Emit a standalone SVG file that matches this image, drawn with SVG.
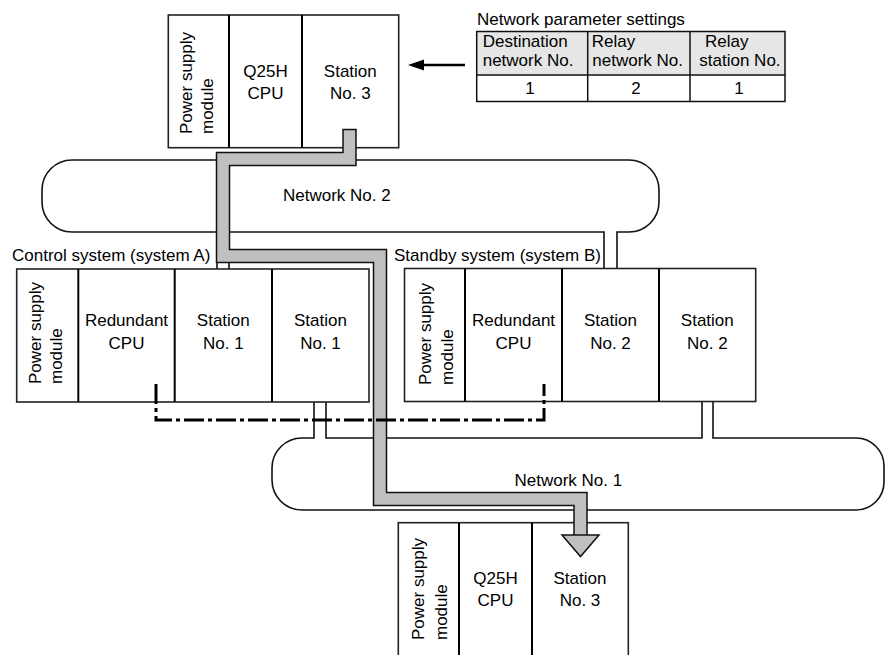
<svg xmlns="http://www.w3.org/2000/svg" width="885" height="655" viewBox="0 0 885 655">
<style>
text{font-family:"Liberation Sans",Arial,sans-serif;font-size:17px;fill:#000}
.c{text-anchor:middle}
.box{fill:#fff;stroke:#222;stroke-width:1.6}
.div{stroke:#000;stroke-width:2}
.net{fill:none;stroke:#111;stroke-width:1.6}
.tbl{stroke:#111;stroke-width:1.5}
.route-o{fill:none;stroke:#111;stroke-width:14.5;stroke-linejoin:miter}
.route-i{fill:none;stroke:#c0c0c0;stroke-width:11.5;stroke-linejoin:miter}
.dd{fill:none;stroke:#000;stroke-width:3;stroke-dasharray:20 4 4 4}
</style>
<rect width="885" height="655" fill="#fff"/>

<g id="network-2">
<path class="net" d="M217,232 H72 A30,30 0 0 1 42,202 V190 A30,30 0 0 1 72,160 H629 A30,30 0 0 1 659,190 V202 A30,30 0 0 1 629,232 H617 V268.5 M604,268.5 V232 H229 V269 M217,269 V232"/>
<text x="283" y="201">Network No. 2</text>
</g>

<g id="network-1">
<path class="net" d="M314,402 V438 H302 A30,30 0 0 0 272,468 V480 A30,30 0 0 0 302,510 H856 A28,28 0 0 0 884,482 V466 A28,28 0 0 0 856,438 H713 V401.5 M702,401.5 V438 H326 V402"/>
<text x="514.5" y="486">Network No. 1</text>
</g>

<g id="top-station">
<rect class="box" x="168.3" y="15" width="230.4" height="132.7"/>
<line class="div" x1="229" y1="15" x2="229" y2="147.7"/>
<line class="div" x1="302" y1="15" x2="302" y2="147.7"/>
<text transform="translate(191.5,134) rotate(-90)">Power supply</text>
<text transform="translate(213,134) rotate(-90)">module</text>
<text class="c" x="265.5" y="76.5">Q25H</text>
<text class="c" x="265.5" y="99">CPU</text>
<text class="c" x="350.3" y="76.5">Station</text>
<text class="c" x="350.3" y="99">No. 3</text>
</g>

<g id="parameter-table">
<text x="477" y="25">Network parameter settings</text>
<rect x="476.7" y="31.5" width="308.3" height="43.5" fill="#e6e6e6"/>
<rect x="476.7" y="31.5" width="308.3" height="70" fill="none" class="tbl"/>
<line class="tbl" x1="476.7" y1="75" x2="785" y2="75"/>
<line class="tbl" x1="587.7" y1="31.5" x2="587.7" y2="101.5"/>
<line class="tbl" x1="690" y1="31.5" x2="690" y2="101.5"/>
<text x="482.7" y="47">Destination</text>
<text x="482.7" y="65.5">network No.</text>
<text x="591.7" y="47">Relay</text>
<text x="592.3" y="65.5">network No.</text>
<text x="705" y="47">Relay</text>
<text x="699.3" y="65.5">station No.</text>
<text class="c" x="530" y="94">1</text>
<text class="c" x="636" y="94">2</text>
<text class="c" x="739" y="94">1</text>
</g>

<g id="system-a">
<text x="12" y="261">Control system (system A)</text>
<rect class="box" x="16.7" y="269" width="352.3" height="133"/>
<line class="div" x1="78.3" y1="269" x2="78.3" y2="402"/>
<line class="div" x1="174.7" y1="269" x2="174.7" y2="402"/>
<line class="div" x1="272" y1="269" x2="272" y2="402"/>
<text transform="translate(40.5,384) rotate(-90)">Power supply</text>
<text transform="translate(61.7,384) rotate(-90)">module</text>
<text class="c" x="126.5" y="326">Redundant</text>
<text class="c" x="126.5" y="349">CPU</text>
<text class="c" x="223.3" y="326">Station</text>
<text class="c" x="223.3" y="349">No. 1</text>
<text class="c" x="320.5" y="326">Station</text>
<text class="c" x="320.5" y="349">No. 1</text>
</g>

<g id="system-b">
<text x="394" y="261">Standby system (system B)</text>
<rect class="box" x="404.5" y="268.5" width="351.2" height="133"/>
<line class="div" x1="465" y1="268.5" x2="465" y2="401.5"/>
<line class="div" x1="562" y1="268.5" x2="562" y2="401.5"/>
<line class="div" x1="659" y1="268.5" x2="659" y2="401.5"/>
<text transform="translate(430.5,385) rotate(-90)">Power supply</text>
<text transform="translate(453.3,385) rotate(-90)">module</text>
<text class="c" x="513.5" y="326">Redundant</text>
<text class="c" x="513.5" y="349">CPU</text>
<text class="c" x="610.5" y="326">Station</text>
<text class="c" x="610.5" y="349">No. 2</text>
<text class="c" x="707.3" y="326">Station</text>
<text class="c" x="707.3" y="349">No. 2</text>
</g>

<g id="bottom-station">
<rect class="box" x="398.3" y="522.7" width="230" height="140"/>
<line class="div" x1="459" y1="522.7" x2="459" y2="660"/>
<line class="div" x1="532" y1="522.7" x2="532" y2="660"/>
<text transform="translate(424,640) rotate(-90)">Power supply</text>
<text transform="translate(447.3,640) rotate(-90)">module</text>
<text class="c" x="495.5" y="583.5">Q25H</text>
<text class="c" x="495.5" y="606">CPU</text>
<text class="c" x="580" y="583.5">Station</text>
<text class="c" x="580" y="606">No. 3</text>
</g>

<g id="connectors">
<path class="route-o" d="M349.5,128.7 V159 H223 V256 H380 V499 H580.5 V536"/>
<path class="route-i" d="M349.5,130.2 V159 H223 V256 H380 V499 H580.5 V537"/>
<polygon points="562,535 599,535 580.5,556.5" fill="#c0c0c0" stroke="#111" stroke-width="1.5" stroke-linejoin="miter"/>
<path class="dd" d="M156,384 V420 H544 V384"/>
<line x1="421" y1="65" x2="465" y2="65" stroke="#000" stroke-width="2.5"/>
<polygon points="408,65 424,59.5 424,70.5" fill="#000"/>
</g>
</svg>
